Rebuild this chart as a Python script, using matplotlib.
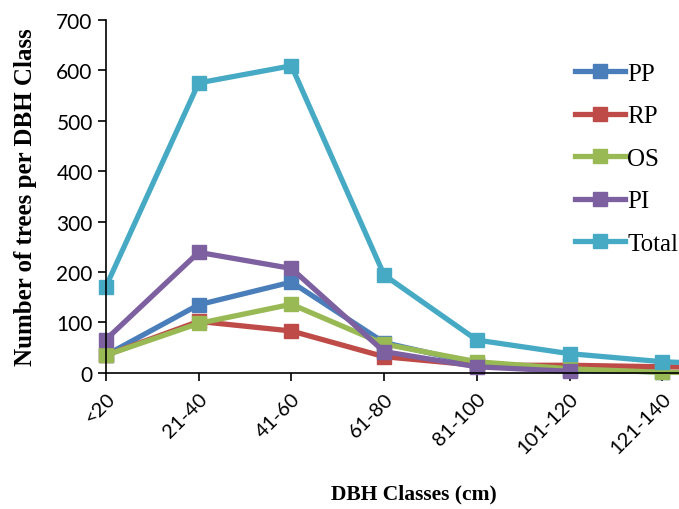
import numpy as np
import matplotlib.pyplot as plt

# DBH classes (last one is cut off by the right edge in the original)
classes = ['<20', '21-40', '41-60', '61-80', '81-100', '101-120', '121-140', '>140']
pp = [35, 135, 180, 60, 18, 5, 2, np.nan]
rp = [35, 102, 83, 32, 15, 15, 12, 10]
os_ = [35, 98, 136, 57, 22, 8, 1, 0]
pi = [66, 239, 207, 42, 12, 3, np.nan, np.nan]
total = [171, 575, 609, 194, 65, 38, 22, 15]

series = [('PP', pp, '#4A7EBB'), ('RP', rp, '#BE4B48'), ('OS', os_, '#98B954'),
          ('PI', pi, '#7D60A0'), ('Total', total, '#46AAC5')]

fig = plt.figure(figsize=(6.79, 5.10), dpi=100)
ax = fig.add_axes([0.156, 0.267, 0.844, 0.692])

x = np.arange(len(classes))
for name, vals, col in series:
    ax.plot(x, vals, color=col, lw=3.8, marker='s', markersize=10, label=name,
            clip_on=False)

ax.set_xlim(0, 6.18)
ax.set_ylim(0, 700)
ax.set_yticks(range(0, 701, 100))
ax.set_xticks(x[:7])
ax.set_xticklabels(classes[:7], rotation=45, ha='right', rotation_mode='anchor',
                   fontsize=14.5, family='Lato')
for lab in ax.get_yticklabels():
    lab.set_family('Lato')
    lab.set_fontsize(15)
ax.tick_params(axis='both', direction='out', length=6, width=1.2)
ax.tick_params(axis='x', pad=6)
ax.spines['top'].set_visible(False)
ax.spines['right'].set_visible(False)
ax.spines['left'].set_linewidth(1.2)
ax.spines['bottom'].set_linewidth(1.2)

ax.set_ylabel('Number of trees per DBH Class', fontsize=18, fontweight='bold',
              family='Liberation Serif', labelpad=14)
fig.text(0.61, 0.02, 'DBH Classes (cm)', fontsize=15.5, fontweight='bold',
         family='Liberation Serif', ha='center')

leg = ax.legend(loc='upper left', bbox_to_anchor=(0.818, 0.88), frameon=False,
                prop={'family': 'Liberation Serif', 'size': 18}, handlelength=2.0,
                handletextpad=0.1, labelspacing=0.8, borderpad=0, borderaxespad=0)

plt.savefig('out.png', dpi=100)
